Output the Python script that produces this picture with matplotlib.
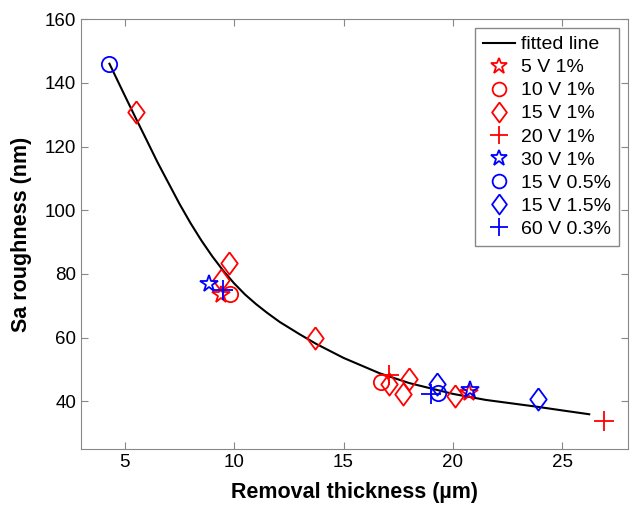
import matplotlib.pyplot as plt

plt.rcParams['font.family'] = ['Liberation Sans', 'DejaVu Sans']

# fitted curve, points
fit_x = [4.3, 5.0, 5.46, 6.0, 6.5, 7.0, 7.5, 8.0, 8.5, 9.0, 9.5, 10.0, 10.5,
         11.0, 11.5, 12.08, 13.0, 13.75, 15.0, 16.64, 18.0, 20.0, 21.5, 23.8,
         25.0, 26.23]
fit_y = [146.0, 136.0, 129.5, 122.0, 115.0, 108.5, 102.0, 96.0, 90.5, 85.5,
         81.0, 77.0, 73.5, 70.5, 67.8, 64.9, 61.0, 58.0, 53.6, 48.8, 45.7,
         42.3, 40.4, 38.3, 37.1, 35.9]

# measured points per series
labels = ['5 V 1%', '10 V 1%', '15 V 1%', '20 V 1%',
          '30 V 1%', '15 V 0.5%', '15 V 1.5%', '60 V 0.3%']
colors = ['red', 'red', 'red', 'red', 'blue', 'blue', 'blue', 'blue']
diamond = [(0, 1), (0.74, 0), (0, -1), (-0.74, 0), (0, 1)]
markers = ['*', 'o', diamond, '+', '*', 'o', diamond, '+']
sizes = [13, 11, 16, 14, 13, 11, 16, 14]
xs = [[9.4, 20.75],
      [9.8, 16.7],
      [5.5, 9.4, 9.76, 13.7, 17.1, 17.7, 18.0, 20.1],
      [17.1, 26.9],
      [8.85, 20.8],
      [4.3, 19.3],
      [19.25, 23.9],
      [9.5, 19.0]]
ys = [[73.5, 42.7],
      [73.8, 46.0],
      [131.0, 78.2, 83.3, 59.7, 45.3, 42.2, 46.9, 41.5],
      [48.2, 33.8],
      [76.9, 43.5],
      [146.0, 42.5],
      [45.3, 40.8],
      [74.8, 42.2]]

fig = plt.figure(figsize=(6.33, 5.05), dpi=100)
ax = fig.add_axes([0.128, 0.111, 0.864, 0.851])

ax.plot(fit_x, fit_y, color='black', lw=1.5, label='fitted line')
for i in range(len(labels)):
    ax.plot(xs[i], ys[i], linestyle='none', marker=markers[i], ms=sizes[i],
            mfc='none', mec=colors[i], mew=1.3, label=labels[i])

ax.set_xlim(3, 28)
ax.set_ylim(25, 160)
ax.set_xticks([5, 10, 15, 20, 25])
ax.set_yticks([40, 60, 80, 100, 120, 140, 160])
ax.tick_params(direction='in', top=True, right=True, labelsize=13.5,
               color='#888888', length=5)
for s in ax.spines.values():
    s.set_color('#888888')
ax.set_xlabel('Removal thickness (µm)', fontsize=15.5, fontweight='bold',
              labelpad=8)
ax.set_ylabel('Sa roughness (nm)', fontsize=15.5, fontweight='bold',
              labelpad=9)

leg = ax.legend(loc='upper right', fontsize=14, fancybox=False,
                edgecolor='#888888', framealpha=1, handlelength=1.65,
                labelspacing=0.28, borderpad=0.4, handletextpad=0.35,
                borderaxespad=0.45, markerscale=0.9)
leg.get_frame().set_linewidth(1.0)

fig.savefig('out.png', dpi=100)
